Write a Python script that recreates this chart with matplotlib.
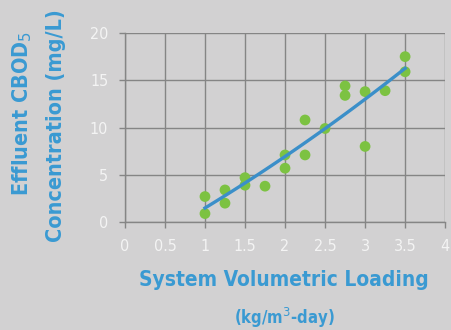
import matplotlib
matplotlib.use('Agg')
import matplotlib.pyplot as plt
import numpy as np

# Datos
loading = [1.0, 1.0, 1.25, 1.25, 1.5, 1.5, 1.75, 2.0, 2.0, 2.25, 2.25, 2.5,
           2.75, 2.75, 3.0, 3.0, 3.25, 3.5, 3.5]
cbod = [2.7, 0.9, 3.4, 2.0, 4.7, 3.9, 3.8, 7.1, 5.7, 10.8, 7.1, 9.9,
        14.4, 13.4, 13.8, 8.0, 13.9, 17.5, 15.9]
x_ticks = [0, 0.5, 1, 1.5, 2, 2.5, 3, 3.5, 4]
x_tick_labels = ["0", "0.5", "1", "1.5", "2", "2.5", "3", "3.5", "4"]
y_ticks = [0, 5, 10, 15, 20]

BG = "#d2d1d2"
GREEN = "#7cc242"
BLUE = "#3b8fc9"
LABEL = "#3a9ad2"
GRID = "#858585"
FONT = "DejaVu Sans"
STRETCH = "condensed"

fig = plt.figure(figsize=(4.51, 3.30), dpi=100, facecolor=BG)
ax = fig.add_axes([0.277, 0.327, 0.710, 0.573])
ax.set_facecolor(BG)

ax.set_xlim(0, 4)
ax.set_ylim(0, 20)
ax.set_xticks(x_ticks)
ax.set_xticklabels(x_tick_labels)
ax.set_yticks(y_ticks)
ax.grid(True, color=GRID, linewidth=1.0)
ax.set_axisbelow(True)
for side in ["top", "right"]:
    ax.spines[side].set_visible(False)
for side in ["left", "bottom"]:
    ax.spines[side].set_color(GRID)
    ax.spines[side].set_linewidth(1.0)
ax.tick_params(colors=GRID, length=4, width=1.0, pad=8)
for lbl in ax.get_xticklabels() + ax.get_yticklabels():
    lbl.set_color("#f4f4f4")
    lbl.set_fontsize(11.5)
    lbl.set_family(FONT)
    lbl.set_stretch(STRETCH)

# Puntos
ax.scatter(loading, cbod, s=60, color=GREEN, edgecolor="none", zorder=3, clip_on=False)

# Linea de tendencia polinomica (orden 2)
coef = np.polyfit(loading, cbod, 2)
xs = np.linspace(min(loading), max(loading), 100)
ax.plot(xs, np.polyval(coef, xs), color=BLUE, linewidth=2.4, zorder=4)

# Etiquetas de ejes
fig.text(0.63, 0.152, "System Volumetric Loading", color=LABEL, fontsize=15,
         fontweight="bold", ha="center", va="center", family=FONT, stretch=STRETCH)
fig.text(0.63, 0.035, "(kg/m$^3$-day)", color=LABEL, fontsize=12,
         fontweight="bold", ha="center", va="center", family=FONT, stretch=STRETCH)
fig.text(0.05, 0.655, "Effluent CBOD$_5$", color=LABEL, fontsize=15.5,
         fontweight="bold", ha="center", va="center", rotation=90, family=FONT,
         stretch=STRETCH)
fig.text(0.124, 0.62, "Concentration (mg/L)", color=LABEL, fontsize=15.5,
         fontweight="bold", ha="center", va="center", rotation=90, family=FONT,
         stretch=STRETCH)

fig.savefig("out.png", dpi=100, facecolor=BG)
